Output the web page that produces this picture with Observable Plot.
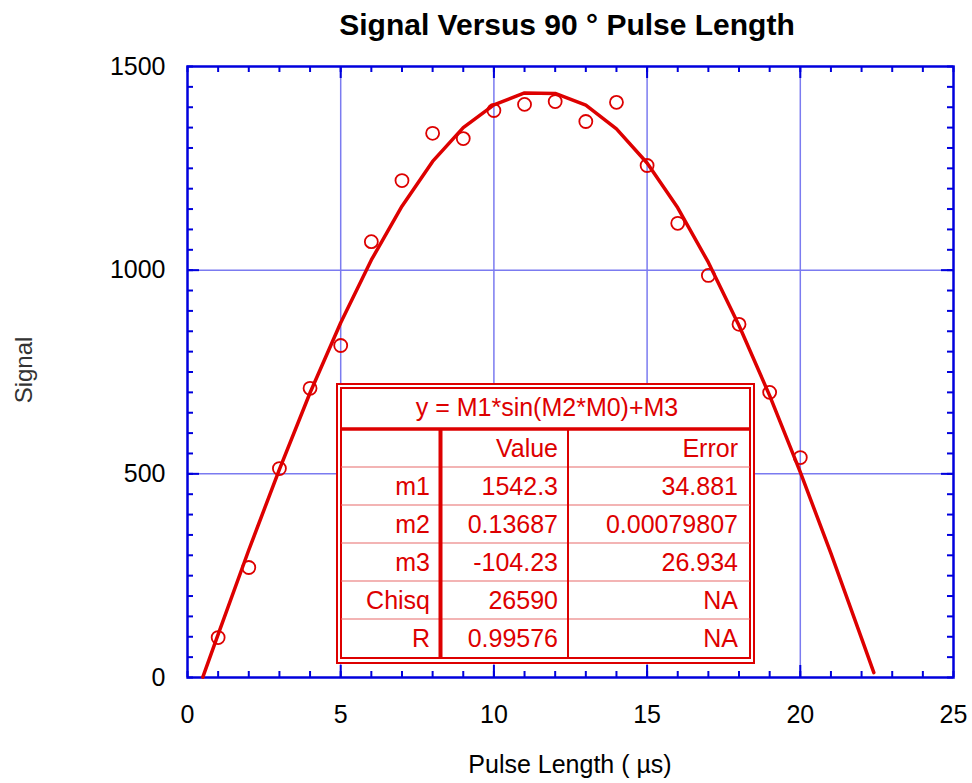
<!DOCTYPE html>
<html><head><meta charset="utf-8">
<script src="https://cdn.jsdelivr.net/npm/d3@7"></script>
<script src="https://cdn.jsdelivr.net/npm/@observablehq/plot@0.6"></script>
<style>body{margin:0;background:#fff} svg{display:block}</style>
</head><body><div id="chart"></div>
<script>
// ---- data ----
const pulse  = [1,2,3,4,5,6,7,8,9,10,11,12,13,14,15,16,17,18,19,20];
const signal = [98,270,513,710,815,1070,1220,1336,1323,1392,1407,1414,1365,1412,1257,1115,987,867,700,540];
const fitX = [0.5,1,2,3,4,5,6,7,8,9,10,11,12,13,14,15,16,17,18,19,20,21,22,22.4];
const fitY = [1,106,313,511,699,871,1025,1157,1267,1350,1406,1435,1434,1405,1347,1263,1153,1019,864,692,504,305,96,12];
const xTickLabels = [0,5,10,15,20,25];
const yTickLabels = [0,500,1000,1500];
const xGridLines = [5,10,15,20];
const yGridLines = [500,1000];
const xMinorTicks = [0,1,2,3,4,5,6,7,8,9,10,11,12,13,14,15,16,17,18,19,20,21,22,23,24,25];
const yMinorTicks = [0,50,100,150,200,250,300,350,400,450,500,550,600,650,700,750,800,850,900,950,1000,1050,1100,1150,1200,1250,1300,1350,1400,1450,1500];
const titleText = "Signal Versus 90 ° Pulse Length";
const xLabel = "Pulse Length ( µs)";
const yLabel = "Signal";
const fitFormula = "y = M1*sin(M2*M0)+M3";
const tableHeader = ["", "Value", "Error"];
const tableNames  = ["m1","m2","m3","Chisq","R"];
const tableValues = ["1542.3","0.13687","-104.23","26590","0.99576"];
const tableErrors = ["34.881","0.00079807","26.934","NA","NA"];

// ---- layout ----
const W = 972, H = 783, mL = 187, mR = 19, mT = 66, mB = 106;
const iw = W - mL - mR, ih = H - mT - mB;
const blue = "#0000dd", gridC = "#7b7bf0", red = "#dd0000";
const font = "'Liberation Sans', Arial, sans-serif";

const points = pulse.map((x, i) => ({x, y: signal[i]}));
const fit = fitX.map((x, i) => ({x, y: fitY[i]}));

const chart = Plot.plot({
  width: W, height: H,
  marginLeft: mL, marginRight: mR, marginTop: mT, marginBottom: mB,
  style: {fontFamily: font, fontSize: "25px", color: "#000", background: "#fff"},
  x: {domain: [0, 25], label: null},
  y: {domain: [0, 1500], label: null},
  marks: [
    Plot.ruleX(xGridLines, {x: d => d, stroke: gridC, strokeWidth: 1.5}),
    Plot.ruleY(yGridLines, {y: d => d, stroke: gridC, strokeWidth: 1.5}),
    Plot.ruleX(xMinorTicks, {x: d => d, stroke: blue, strokeWidth: 2, insetTop: ih - 6}),
    Plot.ruleX(xMinorTicks, {x: d => d, stroke: blue, strokeWidth: 2, insetBottom: ih - 6}),
    Plot.ruleX(xGridLines, {x: d => d, stroke: blue, strokeWidth: 2, insetTop: ih - 12}),
    Plot.ruleX(xGridLines, {x: d => d, stroke: blue, strokeWidth: 2, insetBottom: ih - 12}),
    Plot.ruleY(yMinorTicks, {y: d => d, stroke: blue, strokeWidth: 2, insetRight: iw - 6}),
    Plot.ruleY(yMinorTicks, {y: d => d, stroke: blue, strokeWidth: 2, insetLeft: iw - 6}),
    Plot.ruleY(yGridLines, {y: d => d, stroke: blue, strokeWidth: 2, insetRight: iw - 12}),
    Plot.ruleY(yGridLines, {y: d => d, stroke: blue, strokeWidth: 2, insetLeft: iw - 12}),
    Plot.frame({stroke: blue, strokeWidth: 2.5}),
    Plot.axisX({ticks: xTickLabels, tickSize: 0, tickPadding: 28, fontSize: 25, label: null, fill: "#000", tickFormat: d => String(d)}),
    Plot.axisY({ticks: yTickLabels, tickSize: 0, tickPadding: 22, fontSize: 25, label: null, fill: "#000", tickFormat: d => String(d)}),
    Plot.line(fit, {x: "x", y: "y", stroke: red, strokeWidth: 3.5}),
    Plot.dot(points, {x: "x", y: "y", r: 6.5, stroke: red, strokeWidth: 1.8, fill: "none"})
  ]
});
document.getElementById("chart").appendChild(chart);

const svg = d3.select(chart);
// Title and axis labels
svg.append("text").attr("x", 567).attr("y", 35).attr("text-anchor", "middle")
  .attr("font-family", font).attr("font-size", 30).attr("font-weight", "bold").attr("fill", "#000")
  .text(titleText);
svg.append("text").attr("x", 570).attr("y", 773).attr("text-anchor", "middle")
  .attr("font-family", font).attr("font-size", 25).attr("fill", "#000").text(xLabel);
svg.append("text").attr("transform", "translate(32,370) rotate(-90)").attr("text-anchor", "middle")
  .attr("font-family", font).attr("font-size", 24).attr("fill", "#333").text(yLabel);

// Fit-results table
const tb = svg.append("g").attr("font-family", font).attr("font-size", 25).attr("fill", red);
tb.append("rect").attr("x", 337).attr("y", 384).attr("width", 417).attr("height", 279)
  .attr("fill", "#fff").attr("stroke", red).attr("stroke-width", 2);
tb.append("rect").attr("x", 341).attr("y", 388).attr("width", 409).attr("height", 270)
  .attr("fill", "none").attr("stroke", red).attr("stroke-width", 2);
const rowTop = 429, rowH = 38;
for (let i = 1; i < 6; i++) {
  tb.append("line").attr("x1", 341).attr("x2", 750).attr("y1", rowTop + i * rowH).attr("y2", rowTop + i * rowH)
    .attr("stroke", "#e86a6a").attr("stroke-width", 1.2);
}
tb.append("line").attr("x1", 341).attr("x2", 750).attr("y1", rowTop).attr("y2", rowTop)
  .attr("stroke", red).attr("stroke-width", 3.5);
tb.append("line").attr("x1", 440.5).attr("x2", 440.5).attr("y1", rowTop).attr("y2", 658)
  .attr("stroke", red).attr("stroke-width", 4);
tb.append("line").attr("x1", 568).attr("x2", 568).attr("y1", rowTop).attr("y2", 658)
  .attr("stroke", red).attr("stroke-width", 2);
tb.append("text").attr("x", 547).attr("y", 416).attr("text-anchor", "middle").text(fitFormula);
const colEnd = [430, 558, 738];
const rows = [tableHeader].concat(tableNames.map((n, i) => [n, tableValues[i], tableErrors[i]]));
rows.forEach((r, i) => {
  r.forEach((c, j) => {
    if (!c) return;
    tb.append("text").attr("x", colEnd[j]).attr("y", rowTop + rowH * (i + 1) - 10)
      .attr("text-anchor", "end").text(c);
  });
});
</script>
</body></html>
